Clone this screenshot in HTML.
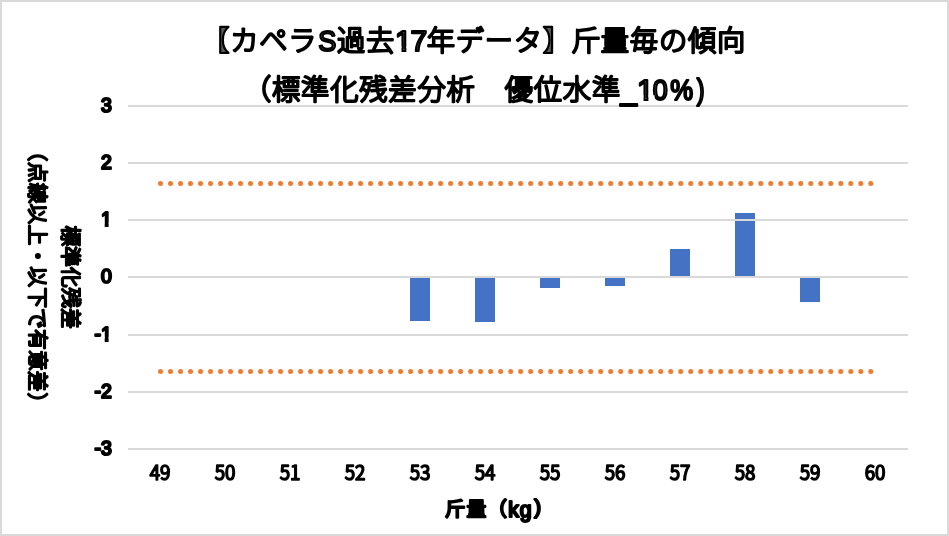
<!DOCTYPE html>
<html lang="ja"><head><meta charset="utf-8"><title>斤量毎の傾向</title>
<style>
html,body{margin:0;padding:0;background:#fff;}
body{width:949px;height:536px;overflow:hidden;}
svg{display:block;}
text{font-family:"Liberation Sans","Noto Sans CJK JP",sans-serif;fill:#595959;stroke:#000;stroke-linejoin:round;}
.title text{font-size:28.3px;font-weight:300;stroke-width:2.2px;}
.ytick text{font-size:19.4px;stroke-width:2.2px;}
.xtick text{font-family:"Noto Sans CJK JP",sans-serif;font-weight:350;font-size:19.7px;stroke-width:1.6px;}
.xtitle text{font-size:19.8px;font-weight:400;stroke-width:2.2px;}
.ytitle text{font-size:20.45px;font-weight:300;stroke-width:2.2px;}
</style></head><body>
<svg width="949" height="536" viewBox="0 0 949 536">
<rect x="0" y="0" width="949" height="536" fill="#fff"/>
<rect x="1" y="1" width="947" height="534" fill="none" stroke="#d9d9d9" stroke-width="2"/>
<g fill="#4472c4">
<rect x="410" y="278" width="20" height="43"/>
<rect x="475" y="278" width="20" height="44"/>
<rect x="540" y="278" width="20" height="10"/>
<rect x="605" y="278" width="20" height="8"/>
<rect x="670" y="249" width="20" height="28"/>
<rect x="735" y="213" width="20" height="64"/>
<rect x="800" y="278" width="20" height="24"/>
</g>
<g fill="#d9d9d9">
<rect x="128" y="105" width="780" height="2"/>
<rect x="128" y="162" width="780" height="2"/>
<rect x="128" y="219" width="780" height="2"/>
<rect x="128" y="276" width="780" height="2"/>
<rect x="128" y="334" width="780" height="2"/>
<rect x="128" y="391" width="780" height="2"/>
<rect x="128" y="448" width="780" height="2"/>
</g>
<line x1="160.5" y1="183.5" x2="871" y2="183.5" stroke="#ed7d31" stroke-width="5" stroke-linecap="round" stroke-dasharray="0 10.004"/>
<line x1="160.5" y1="371.5" x2="871" y2="371.5" stroke="#ed7d31" stroke-width="5" stroke-linecap="round" stroke-dasharray="0 10.004"/>
<g class="ytick">
<text x="111.7" y="111.9" text-anchor="end">3</text>
<text x="111.7" y="169.1" text-anchor="end">2</text>
<text x="111.7" y="226.2" text-anchor="end">1</text>
<text x="111.7" y="283.4" text-anchor="end">0</text>
<text x="111.7" y="340.6" text-anchor="end">-1</text>
<text x="111.7" y="397.7" text-anchor="end">-2</text>
<text x="111.7" y="454.9" text-anchor="end">-3</text>
</g>
<g class="xtick">
<text transform="translate(160.1,480.3) scale(0.96,1)" text-anchor="middle">49</text>
<text transform="translate(225.1,480.3) scale(0.96,1)" text-anchor="middle">50</text>
<text transform="translate(290.1,480.3) scale(0.96,1)" text-anchor="middle">51</text>
<text transform="translate(355.1,480.3) scale(0.96,1)" text-anchor="middle">52</text>
<text transform="translate(420.1,480.3) scale(0.96,1)" text-anchor="middle">53</text>
<text transform="translate(485.1,480.3) scale(0.96,1)" text-anchor="middle">54</text>
<text transform="translate(550.1,480.3) scale(0.96,1)" text-anchor="middle">55</text>
<text transform="translate(615.1,480.3) scale(0.96,1)" text-anchor="middle">56</text>
<text transform="translate(680.1,480.3) scale(0.96,1)" text-anchor="middle">57</text>
<text transform="translate(745.1,480.3) scale(0.96,1)" text-anchor="middle">58</text>
<text transform="translate(810.1,480.3) scale(0.96,1)" text-anchor="middle">59</text>
<text transform="translate(875.1,480.3) scale(0.96,1)" text-anchor="middle">60</text>
</g>
<g class="title">
<text x="201.3 230.31 259.32 288.33 318.3 336.9 365.91 395.05 410.6 426.8 455.81 484.82 513.83 542.84 571.85 600.86 629.87 658.88 687.89 716.9" y="50.85 50.85 50.85 50.85 50.9 50.85 50.85 50.7 50.7 50.85 50.85 50.85 50.85 50.85 50.85 50.85 50.85 50.85 50.85 50.85" xml:space="preserve">【カペラ<tspan font-size="30" textLength="18.06" lengthAdjust="spacingAndGlyphs">S</tspan>過去<tspan font-size="30">1</tspan><tspan font-size="30">7</tspan>年データ】斤量毎の傾向</text>
<text x="242.95 272.03 301.11 330.19 359.27 388.35 417.43 446.51 475.59 504.67 533.75 562.83 591.91 620.6 637.1 652.85 670.16 696.75" y="99.6 99.6 99.6 99.6 99.6 99.6 99.6 99.6 99.6 99.6 99.6 99.6 99.6 100 99.9 99.9 99.9 99.5" xml:space="preserve">（標準化残差分析　優位水準<tspan font-size="29.33">_</tspan><tspan font-size="30">1</tspan><tspan font-size="30" textLength="15" lengthAdjust="spacingAndGlyphs">0</tspan><tspan font-size="30" textLength="22.86" lengthAdjust="spacingAndGlyphs">%</tspan><tspan font-size="29.33" textLength="7.8" lengthAdjust="spacingAndGlyphs">)</tspan></text>
</g>
<g fill="#fff">
<rect x="395.04" y="46.16" width="6.46" height="6.84"/><rect x="406.35" y="46.16" width="6.22" height="6.84"/>
<rect x="637.09" y="95.36" width="6.46" height="6.84"/><rect x="648.40" y="95.36" width="6.22" height="6.84"/>
<rect x="100.09" y="222.48" width="4.60" height="6.05"/><rect x="108.61" y="222.48" width="4.45" height="6.05"/>
<rect x="100.09" y="336.82" width="4.60" height="6.05"/><rect x="108.61" y="336.82" width="4.45" height="6.05"/>
</g>
<g class="xtitle"><text x="445.3 466.6 487.15 508.27 519.8 534.2" y="516.4 516.4 516.45 516.55 516.55 514.15" xml:space="preserve">斤量（<tspan font-size="21.3">k</tspan><tspan font-size="21.3">g</tspan><tspan font-size="20.5">)</tspan></text></g>
<g class="ytitle">
<g transform="translate(63.2,0) rotate(90)"><text x="225.7 246.33 266.96 287.59 308.22" y="0 0 0 0 0" xml:space="preserve">標準化残差</text></g>
<g transform="translate(30.0,0) rotate(90)"><text x="140.64 162.05 182.95 203.85 224.75 245.65 266.55 287.45 308.35 329.25 350.15 371.05 392.76" y="0 0 0 0 0 0 0 0 0 0 0 0 0" xml:space="preserve">（点線以上<tspan fill="#000">・</tspan>以下で有意差）</text></g>
</g>
</svg>
</body></html>
